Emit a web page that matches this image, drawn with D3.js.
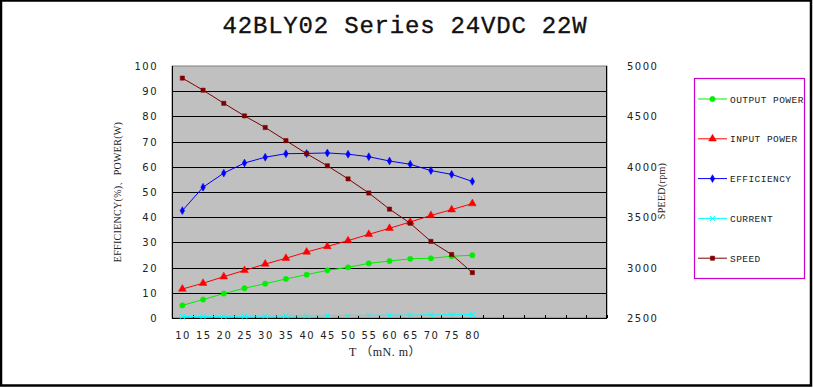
<!DOCTYPE html>
<html>
<head>
<meta charset="utf-8">
<script src="https://cdn.jsdelivr.net/npm/d3@7"></script>
<style>
  body { margin: 0; background: #fff; }
  svg { display: block; }
  .tick-label { font-family: "DejaVu Sans", sans-serif; font-size: 10px; letter-spacing: 1.5px; fill: #222; }
  .legend-text { font-family: "Liberation Mono", monospace; font-size: 9.5px; letter-spacing: 0.45px; fill: #222; }
</style>
</head>
<body>
<svg id="chart"></svg>
<script>
// torque categories (the last 6 slots are empty in the original chart)
const torque = ["10","15","20","25","30","35","40","45","50","55","60","65","70","75","80","","","","","",""];
const outputPower = [5.0, 7.3, 9.7, 11.8, 13.6, 15.5, 17.2, 18.9, 20.1, 21.7, 22.6, 23.5, 23.7, 24.5, 24.9];
const inputPower = [11.5, 13.8, 16.4, 18.9, 21.4, 23.7, 26.2, 28.4, 30.7, 33.2, 35.6, 38.1, 40.7, 43.0, 45.4];
const efficiency = [42.6, 51.9, 57.5, 61.5, 63.8, 65.2, 65.3, 65.5, 65.0, 64.0, 62.3, 61.0, 58.5, 57.0, 54.2];
const current = [0.6, 0.6, 0.65, 0.7, 0.75, 0.8, 0.85, 0.95, 1.0, 1.05, 1.1, 1.15, 1.2, 1.3, 1.35];
const speed = [4880, 4760, 4630, 4505, 4390, 4260, 4130, 4010, 3880, 3740, 3580, 3440, 3260, 3130, 2950];
const leftTicks = [0,10,20,30,40,50,60,70,80,90,100];
const rightTicks = [2500,3000,3500,4000,4500,5000];

const series = [
  { name: "OUTPUT POWER", values: outputPower, color: "#00ee00", symbol: d3.symbolCircle, size: 22, axis: "left" },
  { name: "INPUT POWER", values: inputPower, color: "#ff0000", symbol: d3.symbolTriangle, size: 26, axis: "left" },
  { name: "EFFICIENCY", values: efficiency, color: "#0000ff", symbol: d3.symbolDiamond, size: 18, axis: "left" },
  { name: "CURRENT", values: current, color: "#00ffff", symbol: d3.symbolCross, size: 18, axis: "left", cross: true },
  { name: "SPEED", values: speed, color: "#800000", symbol: d3.symbolSquare, size: 18, axis: "right" }
];

const W = 813, H = 388;
const plot = { left: 172, right: 607, top: 66, bottom: 318 };

const svg = d3.select("#chart").attr("width", W).attr("height", H);

// outer frame
svg.append("rect").attr("x", 1).attr("y", 0.5).attr("width", W - 3).attr("height", H - 3)
  .attr("fill", "#fff").attr("stroke", "#000").attr("stroke-width", 2.5);

const xScale = d3.scaleBand().domain(d3.range(torque.length)).range([plot.left, plot.right]);
const yLeft = d3.scaleLinear().domain([0, 100]).range([plot.bottom, plot.top]);
const yRight = d3.scaleLinear().domain([2500, 5000]).range([plot.bottom, plot.top]);
const xPos = (i) => xScale(i) + xScale.bandwidth() / 2;

// title
svg.append("text").attr("x", 405).attr("y", 33).attr("text-anchor", "middle")
  .style("font-family", "'Liberation Mono', monospace")
  .style("font-size", "24px").style("letter-spacing", "0.8px")
  .attr("fill", "#111").attr("stroke", "#111").attr("stroke-width", 0.35)
  .text("42BLY02 Series 24VDC 22W");

// plot background
svg.append("rect").attr("x", plot.left).attr("y", plot.top)
  .attr("width", plot.right - plot.left).attr("height", plot.bottom - plot.top)
  .attr("fill", "#c0c0c0").attr("stroke", "#808080");

// gridlines
svg.append("g").selectAll("line").data(leftTicks.filter(d => d > 0 && d < 100)).enter()
  .append("line")
  .attr("x1", plot.left).attr("x2", plot.right)
  .attr("y1", d => Math.round(yLeft(d)) + 0.5).attr("y2", d => Math.round(yLeft(d)) + 0.5)
  .attr("stroke", "#000");

// axis lines
svg.append("line").attr("x1", plot.left + 0.5).attr("x2", plot.left + 0.5)
  .attr("y1", plot.top).attr("y2", plot.bottom).attr("stroke", "#000");
svg.append("line").attr("x1", plot.right - 0.5).attr("x2", plot.right - 0.5)
  .attr("y1", plot.top).attr("y2", plot.bottom).attr("stroke", "#000");

// x axis with ticks pointing up into the plot at category boundaries
const xAxis = svg.append("g").attr("transform", "translate(0," + plot.bottom + ")");
xAxis.append("line").attr("x1", plot.left).attr("x2", plot.right).attr("y1", 0.5).attr("y2", 0.5).attr("stroke", "#000");
xAxis.selectAll(".xt").data(d3.range(torque.length + 1)).enter()
  .append("line")
  .attr("x1", i => Math.round(plot.left + i * xScale.bandwidth()) + 0.5)
  .attr("x2", i => Math.round(plot.left + i * xScale.bandwidth()) + 0.5)
  .attr("y1", 0).attr("y2", -3).attr("stroke", "#000");
xAxis.selectAll(".xl").data(d3.range(torque.length)).enter()
  .append("text").attr("class", "tick-label")
  .attr("x", i => xPos(i) + 0.7).attr("y", 21).attr("text-anchor", "middle")
  .text(i => torque[i]);

// left tick labels
svg.append("g").selectAll("text").data(leftTicks).enter()
  .append("text").attr("class", "tick-label")
  .attr("x", 158).attr("y", d => yLeft(d) + 4).attr("text-anchor", "end")
  .text(d => d);

// right tick labels
svg.append("g").selectAll("text").data(rightTicks).enter()
  .append("text").attr("class", "tick-label")
  .attr("x", 627).attr("y", d => yRight(d) + 4).attr("text-anchor", "start")
  .text(d => d);

// axis titles
svg.append("text").attr("transform", "translate(121,192) rotate(-90)")
  .attr("text-anchor", "middle")
  .style("font-family", "'Liberation Serif', serif").style("font-size", "10px")
  .style("letter-spacing", "0.3px").attr("fill", "#222")
  .text("EFFICIENCY(%)、POWER(W)");
svg.append("text").attr("transform", "translate(665,191) rotate(-90)")
  .attr("text-anchor", "middle")
  .style("font-family", "'Liberation Serif', serif").style("font-size", "10px")
  .style("letter-spacing", "0.3px").attr("fill", "#222")
  .text("SPEED(rpm)");
svg.append("text").attr("x", 385).attr("y", 356).attr("text-anchor", "middle")
  .style("font-family", "'Liberation Serif', 'Noto Sans CJK SC', serif").style("font-size", "12px")
  .style("letter-spacing", "0.5px").attr("fill", "#222")
  .text("T （mN. m）");

// series
const drawMarker = (g, s, x, y) => {
  g.append("path")
    .attr("d", d3.symbol().type(s.cross ? d3.symbolX : s.symbol).size(s.size)())
    .attr("transform", "translate(" + x + "," + y + ")")
    .attr("fill", s.cross ? "none" : s.color)
    .attr("stroke", s.color).attr("stroke-width", s.cross ? 1 : 0.5)
    .attr("stroke-linejoin", "round");
};

series.forEach(s => {
  const yS = s.axis === "left" ? yLeft : yRight;
  const g = svg.append("g");
  g.append("path").datum(s.values)
    .attr("fill", "none").attr("stroke", s.color).attr("stroke-width", 1)
    .attr("d", d3.line().x((d, i) => xPos(i)).y(d => yS(d)));
  s.values.forEach((v, i) => drawMarker(g, s, xPos(i), yS(v)));
});

// legend
const legend = svg.append("g");
legend.append("rect").attr("x", 694.5).attr("y", 78.5).attr("width", 110).attr("height", 200)
  .attr("fill", "#fff").attr("stroke", "#cc00cc").attr("stroke-width", 1.2);
series.forEach((s, i) => {
  const y = 99 + i * 39.8;
  legend.append("line").attr("x1", 698).attr("x2", 727).attr("y1", y).attr("y2", y)
    .attr("stroke", s.color);
  drawMarker(legend, s, 712.5, y);
  legend.append("text").attr("class", "legend-text").attr("x", 730).attr("y", y + 3.5).text(s.name);
});
</script>
</body>
</html>
